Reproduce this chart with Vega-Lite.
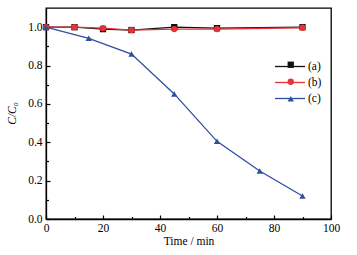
{
  "$schema": "https://vega.github.io/schema/vega-lite/v6.json",
  "width": 285,
  "height": 211,
  "autosize": {"type": "none"},
  "padding": {"left": 46, "top": 8, "right": 26, "bottom": 36},
  "background": "white",
  "config": {
    "font": "Liberation Serif",
    "view": {"stroke": "black", "strokeWidth": 1.3},
    "axis": {
      "grid": false,
      "domainColor": "black",
      "domainWidth": 1.3,
      "tickColor": "black",
      "tickWidth": 1.2,
      "labelColor": "black",
      "labelFont": "Liberation Serif",
      "labelFontSize": 11.5,
      "titleFont": "Liberation Serif",
      "titleFontSize": 11.5,
      "titleFontWeight": "normal",
      "titleColor": "black"
    },
    "legend": {
      "labelFont": "Liberation Serif",
      "labelFontSize": 11.5,
      "labelColor": "black"
    }
  },
  "data": {
    "values": [
      {"series": "(a)", "t": 0, "v": 1.0},
      {"series": "(a)", "t": 10, "v": 1.0},
      {"series": "(a)", "t": 20, "v": 0.99},
      {"series": "(a)", "t": 30, "v": 0.985},
      {"series": "(a)", "t": 45, "v": 1.0},
      {"series": "(a)", "t": 60, "v": 0.995},
      {"series": "(a)", "t": 90, "v": 1.0},
      {"series": "(b)", "t": 0, "v": 1.0},
      {"series": "(b)", "t": 10, "v": 1.0},
      {"series": "(b)", "t": 20, "v": 0.995},
      {"series": "(b)", "t": 30, "v": 0.985},
      {"series": "(b)", "t": 45, "v": 0.99},
      {"series": "(b)", "t": 60, "v": 0.99},
      {"series": "(b)", "t": 90, "v": 0.997},
      {"series": "(c)", "t": 0, "v": 1.0},
      {"series": "(c)", "t": 15, "v": 0.942},
      {"series": "(c)", "t": 30, "v": 0.86},
      {"series": "(c)", "t": 45, "v": 0.652},
      {"series": "(c)", "t": 60, "v": 0.405},
      {"series": "(c)", "t": 75, "v": 0.25},
      {"series": "(c)", "t": 90, "v": 0.12}
    ]
  },
  "layer": [
    {
      "mark": {"type": "line", "strokeWidth": 1.3},
      "encoding": {
        "x": {
          "field": "t", "type": "quantitative",
          "scale": {"domain": [0, 100], "nice": false, "zero": false},
          "axis": {
            "orient": "bottom",
            "values": [0, 20, 40, 60, 80, 100],
            "tickSize": -4,
            "labelPadding": 7,
            "labelFlush": false,
            "title": "Time / min",
            "titleY": 25,
            "titleBaseline": "alphabetic"
          }
        },
        "y": {
          "field": "v", "type": "quantitative",
          "scale": {"domain": [0, 1.1], "nice": false, "zero": false},
          "axis": {
            "orient": "left",
            "values": [0, 0.2, 0.4, 0.6, 0.8, 1.0],
            "format": ".1f",
            "tickSize": -4,
            "labelPadding": 8,
            "labelFlush": false,
            "title": "C/C₀",
            "titleFontStyle": "italic",
            "titleAngle": -90,
            "titleX": -34,
            "titleY": 105,
            "titleAlign": "center",
            "titleBaseline": "middle"
          }
        },
        "stroke": {
          "field": "series", "type": "nominal",
          "scale": {"domain": ["(a)", "(b)", "(c)"], "range": ["#111111", "#E8323A", "#2E4F9E"]},
          "legend": {
            "orient": "none",
            "legendX": 235.5,
            "legendY": 50,
            "title": null,
            "padding": 0,
            "symbolType": "M-2,0H2",
            "symbolSize": 225,
            "symbolStrokeWidth": 1.3,
            "rowPadding": 2,
            "labelOffset": 9.5
          }
        },
        "detail": {"field": "series"}
      }
    },
    {
      "mark": {"type": "point", "filled": true, "opacity": 1, "size": 40, "strokeWidth": 0},
      "encoding": {
        "x": {
          "field": "t", "type": "quantitative",
          "axis": {
            "orient": "bottom",
            "values": [10, 30, 50, 70, 90],
            "tickSize": -2.5,
            "labels": false,
            "domain": false,
            "title": null
          }
        },
        "y": {
          "field": "v", "type": "quantitative",
          "axis": {
            "orient": "left",
            "values": [0.1, 0.3, 0.5, 0.7, 0.9],
            "tickSize": -2.5,
            "labels": false,
            "domain": false,
            "title": null
          }
        },
        "fill": {
          "field": "series", "type": "nominal",
          "scale": {"range": ["#111111", "#E8323A", "#2E4F9E"]},
          "legend": {
            "orient": "none",
            "legendX": 239,
            "legendY": 51,
            "title": null,
            "padding": 0,
            "symbolSize": 40,
            "symbolStrokeWidth": 0,
            "labelExpr": "''",
            "rowPadding": 4
          }
        },
        "shape": {
          "field": "series", "type": "nominal",
          "scale": {"range": ["square", "circle", "triangle-up"]},
          "legend": {
            "orient": "none",
            "legendX": 239,
            "legendY": 51,
            "title": null,
            "padding": 0,
            "symbolSize": 40,
            "symbolStrokeWidth": 0,
            "labelExpr": "''",
            "rowPadding": 4
          }
        }
      }
    }
  ],
  "resolve": {"axis": {"x": "independent", "y": "independent"}}
}
